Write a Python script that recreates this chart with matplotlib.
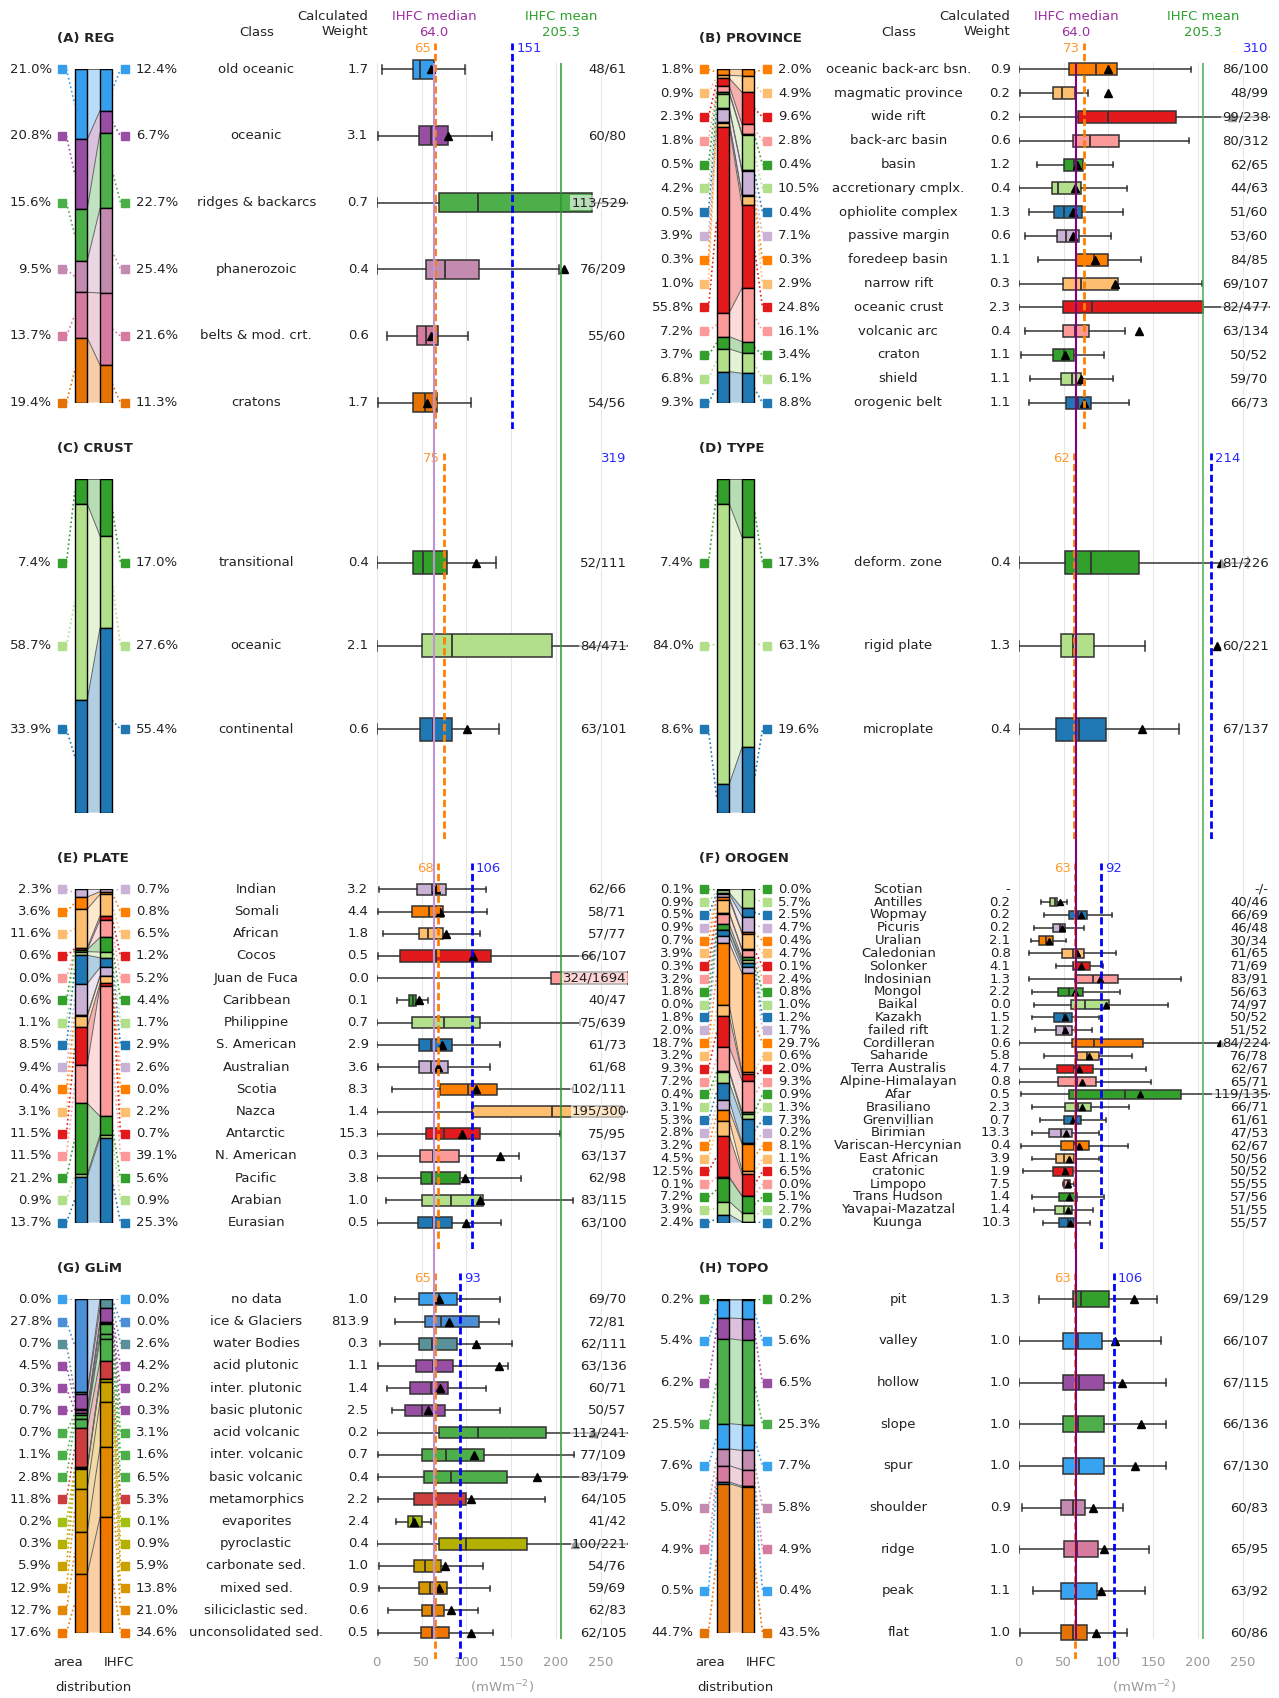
import matplotlib
matplotlib.use("Agg")
import matplotlib.pyplot as plt
import matplotlib.transforms as mtransforms
import numpy as np

plt.rcParams["font.family"] = "DejaVu Sans"
plt.rcParams["font.size"] = 9.5
plt.rcParams["text.color"] = "#222222"

FIG_W, FIG_H = 1279, 1698

# ---------------- data ----------------
# box stats per class: (whisker low, q1, median, q3, whisker high, mean) in mWm-2
reg_classes = ["old oceanic", "oceanic", "ridges & backarcs", "phanerozoic",
               "belts & mod. crt.", "cratons"]
reg_area = [21.0, 20.8, 15.6, 9.5, 13.7, 19.4]
reg_ihfc = [12.4, 6.7, 22.7, 25.4, 21.6, 11.3]
reg_weight = ["1.7", "3.1", "0.7", "0.4", "0.6", "1.7"]
reg_stats = [(6, 40, 48, 64, 98, 61), (1, 47, 60, 80, 129, 80),
             (0, 69, 113, 240, 600, 529), (0, 55, 76, 114, 203, 209),
             (11, 45, 55, 68, 102, 60), (2, 41, 54, 67, 105, 56)]
reg_colors = ["#379ded", "#984ea3", "#4daf4a", "#c38bb0", "#d67b9f", "#e47205"]

prov_classes = ["oceanic back-arc bsn.", "magmatic province", "wide rift", "back-arc basin",
                "basin", "accretionary cmplx.", "ophiolite complex", "passive margin",
                "foredeep basin", "narrow rift", "oceanic crust", "volcanic arc",
                "craton", "shield", "orogenic belt"]
prov_area = [1.8, 0.9, 2.3, 1.8, 0.5, 4.2, 0.5, 3.9, 0.3, 1.0, 55.8, 7.2, 3.7, 6.8, 9.3]
prov_ihfc = [2.0, 4.9, 9.6, 2.8, 0.4, 10.5, 0.4, 7.1, 0.3, 2.9, 24.8, 16.1, 3.4, 6.1, 8.8]
prov_weight = ["0.9", "0.2", "0.2", "0.6", "1.2", "0.4", "1.3", "0.6", "1.1", "0.3",
               "2.3", "0.4", "1.1", "1.1", "1.1"]
prov_stats = [(0, 56, 86, 110, 192, 100), (1, 38, 48, 63, 77, 99),
              (0, 66, 99, 175, 400, 238), (0, 60, 80, 112, 190, 312),
              (20, 50, 62, 72, 105, 65), (0, 37, 44, 70, 121, 63),
              (11, 39, 51, 71, 116, 60), (7, 43, 53, 67, 103, 60),
              (22, 64, 84, 99, 136, 85), (0, 49, 69, 111, 204, 107),
              (0, 49, 82, 206, 400, 477), (7, 49, 63, 78, 119, 134),
              (3, 38, 50, 62, 95, 52), (13, 47, 59, 70, 105, 70),
              (11, 53, 66, 81, 123, 73)]

crust_classes = ["transitional", "oceanic", "continental"]
crust_area = [7.4, 58.7, 33.9]
crust_ihfc = [17.0, 27.6, 55.4]
crust_weight = ["0.4", "2.1", "0.6"]
crust_stats = [(0, 40, 52, 78, 133, 111), (0, 51, 84, 195, 400, 471),
               (0, 48, 63, 84, 136, 101)]

type_classes = ["deform. zone", "rigid plate", "microplate"]
type_area = [7.4, 84.0, 8.6]
type_ihfc = [17.3, 63.1, 19.6]
type_weight = ["0.4", "1.3", "0.4"]
type_stats = [(0, 52, 81, 134, 256, 226), (0, 47, 60, 84, 141, 221),
              (0, 42, 67, 97, 179, 137)]

plate_classes = ["Indian", "Somali", "African", "Cocos", "Juan de Fuca", "Caribbean",
                 "Philippine", "S. American", "Australian", "Scotia", "Nazca",
                 "Antarctic", "N. American", "Pacific", "Arabian", "Eurasian"]
plate_area = [2.3, 3.6, 11.6, 0.6, 0.0, 0.6, 1.1, 8.5, 9.4, 0.4, 3.1, 11.5, 11.5, 21.2, 0.9, 13.7]
plate_ihfc = [0.7, 0.8, 6.5, 1.2, 5.2, 4.4, 1.7, 2.9, 2.6, 0.0, 2.2, 0.7, 39.1, 5.6, 0.9, 25.3]
plate_weight = ["3.2", "4.4", "1.8", "0.5", "0.0", "0.1", "0.7", "2.9", "3.6", "8.3",
                "1.4", "15.3", "0.3", "3.8", "1.0", "0.5"]
plate_stats = [(3, 45, 62, 77, 122, 66), (1, 39, 58, 74, 123, 71),
               (7, 47, 57, 74, 115, 77), (2, 26, 66, 127, 240, 107),
               (0, 194, 324, 500, 2000, 1694), (23, 36, 40, 44, 57, 47),
               (0, 39, 75, 115, 227, 639), (0, 47, 61, 84, 137, 73),
               (2, 47, 61, 79, 126, 68), (17, 71, 102, 134, 219, 111),
               (0, 106, 195, 273, 400, 300), (0, 55, 75, 115, 204, 95),
               (0, 48, 63, 92, 159, 137), (0, 49, 62, 93, 161, 98),
               (10, 51, 83, 118, 219, 115), (0, 46, 63, 84, 139, 100)]

orogen_classes = ["Scotian", "Antilles", "Wopmay", "Picuris", "Uralian", "Caledonian",
                  "Solonker", "Indosinian", "Mongol", "Baikal", "Kazakh", "failed rift",
                  "Cordilleran", "Saharide", "Terra Australis", "Alpine-Himalayan", "Afar",
                  "Brasiliano", "Grenvillian", "Birimian", "Variscan-Hercynian",
                  "East African", "cratonic", "Limpopo", "Trans Hudson",
                  "Yavapai-Mazatzal", "Kuunga"]
orogen_area = [0.1, 0.9, 0.5, 0.9, 0.7, 3.9, 0.3, 3.2, 1.8, 0.0, 1.8, 2.0, 18.7, 3.2,
               9.3, 7.2, 0.4, 3.1, 5.3, 2.8, 3.2, 4.5, 12.5, 0.1, 7.2, 3.9, 2.4]
orogen_ihfc = [0.0, 5.7, 2.5, 4.7, 0.4, 4.7, 0.1, 2.4, 0.8, 1.0, 1.2, 1.7, 29.7, 0.6,
               2.0, 9.3, 0.9, 1.3, 7.3, 0.2, 8.1, 1.1, 6.5, 0.0, 5.1, 2.7, 0.2]
orogen_weight = ["-", "0.2", "0.2", "0.2", "2.1", "0.8", "4.1", "1.3", "2.2", "0.0",
                 "1.5", "1.2", "0.6", "5.8", "4.7", "0.8", "0.5", "2.3", "0.7", "13.3",
                 "0.4", "3.9", "1.9", "7.5", "1.4", "1.4", "10.3"]
orogen_stats = [None, (25, 35, 40, 43, 54, 46), (28, 56, 66, 76, 104, 69),
                (17, 38, 46, 52, 73, 48), (14, 23, 30, 38, 53, 34),
                (11, 48, 61, 73, 109, 65), (42, 61, 71, 80, 94, 69),
                (11, 63, 83, 111, 181, 91), (15, 44, 56, 72, 113, 63),
                (17, 58, 74, 101, 166, 97), (15, 39, 50, 59, 89, 52),
                (18, 42, 51, 59, 82, 52), (0, 59, 84, 139, 320, 224),
                (28, 65, 76, 90, 126, 78), (0, 43, 62, 83, 142, 67),
                (0, 44, 65, 86, 148, 71), (3, 56, 119, 181, 320, 135),
                (15, 52, 66, 81, 123, 71), (24, 51, 61, 69, 97, 61),
                (15, 34, 47, 59, 89, 53), (3, 47, 62, 78, 122, 67),
                (15, 42, 50, 62, 89, 56), (5, 38, 50, 60, 93, 52),
                (49, 51, 55, 57, 62, 55), (15, 45, 57, 65, 95, 56),
                (17, 41, 51, 59, 83, 55), (27, 45, 55, 62, 80, 57)]

glim_classes = ["no data", "ice & Glaciers", "water Bodies", "acid plutonic",
                "inter. plutonic", "basic plutonic", "acid volcanic", "inter. volcanic",
                "basic volcanic", "metamorphics", "evaporites", "pyroclastic",
                "carbonate sed.", "mixed sed.", "siliciclastic sed.", "unconsolidated sed."]
glim_area = [0.0, 27.8, 0.7, 4.5, 0.3, 0.7, 0.7, 1.1, 2.8, 11.8, 0.2, 0.3, 5.9, 12.9, 12.7, 17.6]
glim_ihfc = [0.0, 0.0, 2.6, 4.2, 0.2, 0.3, 3.1, 1.6, 6.5, 5.3, 0.1, 0.9, 5.9, 13.8, 21.0, 34.6]
glim_weight = ["1.0", "813.9", "0.3", "1.1", "1.4", "2.5", "0.2", "0.7", "0.4", "2.2",
               "2.4", "0.4", "1.0", "0.9", "0.6", "0.5"]
glim_stats = [(20, 47, 69, 90, 137, 70), (20, 54, 72, 114, 136, 81),
              (4, 47, 62, 89, 151, 111), (1, 44, 63, 85, 146, 136),
              (11, 37, 60, 80, 122, 71), (17, 32, 50, 76, 137, 57),
              (0, 69, 113, 189, 320, 241), (1, 51, 77, 120, 220, 109),
              (1, 53, 83, 145, 300, 179), (1, 42, 64, 100, 188, 105),
              (21, 35, 41, 50, 61, 42), (0, 69, 100, 168, 300, 221),
              (3, 42, 54, 72, 118, 76), (3, 47, 59, 78, 126, 69),
              (13, 50, 62, 75, 113, 83), (1, 49, 62, 81, 130, 105)]
glim_colors = ["#3aa1ee", "#4a8fd8", "#5a9097", "#984ea3", "#984ea3", "#984ea3",
               "#4daf4a", "#4daf4a", "#4daf4a", "#cc3d3d", "#a3c010", "#b3b000",
               "#c9a200", "#d79600", "#e38800", "#f07600"]

topo_classes = ["pit", "valley", "hollow", "slope", "spur", "shoulder", "ridge", "peak", "flat"]
topo_area = [0.2, 5.4, 6.2, 25.5, 7.6, 5.0, 4.9, 0.5, 44.7]
topo_ihfc = [0.2, 5.6, 6.5, 25.3, 7.7, 5.8, 4.9, 0.4, 43.5]
topo_weight = ["1.3", "1.0", "1.0", "1.0", "1.0", "0.9", "1.0", "1.1", "1.0"]
topo_stats = [(23, 60, 69, 101, 154, 129), (0, 49, 66, 93, 159, 107),
              (0, 49, 67, 95, 164, 115), (0, 49, 66, 95, 164, 136),
              (0, 49, 67, 95, 164, 130), (4, 47, 60, 74, 116, 83),
              (0, 50, 65, 88, 145, 95), (16, 47, 63, 87, 141, 92),
              (1, 47, 60, 76, 121, 86)]
topo_colors = ["#33a02c", "#38a3f0", "#984ea3", "#4daf4a", "#38a3f0", "#c38bb0",
               "#d67b9f", "#38a3f0", "#e47205"]

ihfc_median = 64.0
ihfc_mean = 205.3
ticks = [0, 50, 100, 150, 200, 250]

paired_cycle = ["#1f78b4", "#b2df8a", "#33a02c", "#fb9a99", "#e31a1c", "#fdbf6f", "#ff7f00", "#cab2d6"]


def paired(n):
    return [paired_cycle[(n - 1 - i) % 8] for i in range(n)]


panels = [
    dict(title="(A) REG", col=0, row=0, classes=reg_classes, area=reg_area, ihfc=reg_ihfc,
         weight=reg_weight, stats=reg_stats, colors=reg_colors, lines=(65, 151), box=19),
    dict(title="(B) PROVINCE", col=1, row=0, classes=prov_classes, area=prov_area, ihfc=prov_ihfc,
         weight=prov_weight, stats=prov_stats, colors=paired(15), lines=(73, 310), box=12),
    dict(title="(C) CRUST", col=0, row=1, classes=crust_classes, area=crust_area, ihfc=crust_ihfc,
         weight=crust_weight, stats=crust_stats, colors=paired(3), lines=(75, 319), box=23, pad=1),
    dict(title="(D) TYPE", col=1, row=1, classes=type_classes, area=type_area, ihfc=type_ihfc,
         weight=type_weight, stats=type_stats, colors=paired(3), lines=(62, 214), box=23, pad=1),
    dict(title="(E) PLATE", col=0, row=2, classes=plate_classes, area=plate_area, ihfc=plate_ihfc,
         weight=plate_weight, stats=plate_stats, colors=paired(16), lines=(68, 106), box=11.5),
    dict(title="(F) OROGEN", col=1, row=2, classes=orogen_classes, area=orogen_area, ihfc=orogen_ihfc,
         weight=orogen_weight, stats=orogen_stats, colors=paired(27), lines=(63, 92), box=8.5),
    dict(title="(G) GLiM", col=0, row=3, classes=glim_classes, area=glim_area, ihfc=glim_ihfc,
         weight=glim_weight, stats=glim_stats, colors=glim_colors, lines=(65, 93), box=11.7),
    dict(title="(H) TOPO", col=1, row=3, classes=topo_classes, area=topo_area, ihfc=topo_ihfc,
         weight=topo_weight, stats=topo_stats, colors=topo_colors, lines=(63, 106), box=15.7),
]

# ---------------- layout (pixels) ----------------
COL_DX = 642
PANEL_TOP = [69.3, 479.3, 889.3, 1299.3]
BAR_H = 333.3
BOX_X0 = 376.7
PX_PER_UNIT = 0.897
X_MAX = 280
BOX_W = X_MAX * PX_PER_UNIT
GRID_TOP, GRID_BOT = 63.3, 1639.3

fig = plt.figure(figsize=(FIG_W / 100, FIG_H / 100), dpi=100)


def px_axes(x, y, w, h, zorder=1):
    return fig.add_axes([x / FIG_W, 1 - (y + h) / FIG_H, w / FIG_W, h / FIG_H], zorder=zorder)


def fig_text(x, y, s, **kw):
    fig.text(x / FIG_W, 1 - y / FIG_H, s, **kw)


# column backgrounds: grid, ticks, reference lines
med_line_colors = ["#c392d3", "#800080"]
mean_line_colors = ["#2a9a2a", "#4cae4c"]
for c in range(2):
    x0 = COL_DX * c
    bg = px_axes(x0 + BOX_X0, GRID_TOP, BOX_W, GRID_BOT - GRID_TOP, zorder=0)
    bg.set_xlim(0, X_MAX)
    bg.set_ylim(0, 1)
    bg.set_xticks(ticks)
    bg.set_yticks([])
    bg.grid(axis="x", color="#e6e6e6", lw=0.8)
    for s in bg.spines.values():
        s.set_visible(False)
    bg.tick_params(axis="x", length=0, pad=12, labelcolor="#999999", labelsize=9.5)
    tr = mtransforms.blended_transform_factory(bg.transData, fig.transFigure)
    bg.text(140, 1 - 1687.7 / FIG_H, "(mWm$^{-2}$)", transform=tr, ha="center", va="center",
            color="#999999")
    bg.text(ihfc_median, 1 - 24.5 / FIG_H, f"IHFC median\n{ihfc_median:.1f}", transform=tr,
            ha="center", va="center", color="#9b30a0", multialignment="center")
    bg.text(ihfc_mean, 1 - 24.5 / FIG_H, f"IHFC mean\n{ihfc_mean:.1f}", transform=tr,
            ha="center", va="center", color="#2ca02c", multialignment="center")

    ov = px_axes(x0 + BOX_X0, GRID_TOP, BOX_W, GRID_BOT - GRID_TOP, zorder=3)
    ov.set_xlim(0, X_MAX)
    ov.axis("off")
    ov.axvline(ihfc_median, color=med_line_colors[c], lw=1.5)
    ov.axvline(ihfc_mean, color=mean_line_colors[c], lw=1.1)

    fig_text(x0 + 256.3, 32.3, "Class", ha="center", va="center")
    fig_text(x0 + 368.6, 24.5, "Calculated\nWeight", ha="right", va="center",
             multialignment="right")
    fig_text(x0 + 83, 1662.3, "area", ha="right", va="center")
    fig_text(x0 + 104, 1662.3, "IHFC", ha="left", va="center")
    fig_text(x0 + 93.7, 1687.7, "distribution", ha="center", va="center")


def draw_panel(p):
    x0 = COL_DX * p["col"]
    top = PANEL_TOP[p["row"]]
    n = len(p["classes"])
    pad = p.get("pad", 0)
    ys = np.linspace(0, BAR_H, n + 2 * pad)[pad:pad + n]
    colors = p["colors"]

    # stacked area / IHFC distribution
    axl = px_axes(x0, top, BOX_X0 - 1, BAR_H, zorder=1)
    axl.set_xlim(0, BOX_X0 - 1)
    axl.set_ylim(BAR_H, 0)
    axl.axis("off")
    area = np.array(p["area"], float)
    ihfc = np.array(p["ihfc"], float)
    a_h = area / area.sum() * BAR_H
    i_h = ihfc / ihfc.sum() * BAR_H
    a_top = np.concatenate([[0], np.cumsum(a_h)[:-1]])
    i_top = np.concatenate([[0], np.cumsum(i_h)[:-1]])
    for k in range(n):
        col = colors[k]
        axl.fill([87.3, 100, 100, 87.3],
                 [a_top[k], i_top[k], i_top[k] + i_h[k], a_top[k] + a_h[k]],
                 fc=col, alpha=0.35, ec="none", zorder=1)
        axl.plot([87.3, 100], [a_top[k], i_top[k]], color="#666666", lw=0.7, zorder=1.5)
        axl.bar(81, a_h[k], bottom=a_top[k], width=12.6, color=col, edgecolor="black",
                linewidth=1.0, zorder=2)
        axl.bar(106.1, i_h[k], bottom=i_top[k], width=12.2, color=col, edgecolor="black",
                linewidth=1.0, zorder=2)
        y = ys[k]
        axl.plot([66.5, 74.7], [y, a_top[k] + a_h[k] / 2], ls=":", color=col, lw=1.2, zorder=1)
        axl.plot([112.2, 120.5], [i_top[k] + i_h[k] / 2, y], ls=":", color=col, lw=1.2, zorder=1)
        axl.plot(62, y, marker="s", ms=6.2, color=col, mec=col, clip_on=False, zorder=3)
        axl.plot(124.9, y, marker="s", ms=6.2, color=col, mec=col, clip_on=False, zorder=3)
        axl.text(51.8, y, f"{p['area'][k]:.1f}%", ha="right", va="center")
        axl.text(135.9, y, f"{p['ihfc'][k]:.1f}%", ha="left", va="center")
        axl.text(256.3, y, p["classes"][k], ha="center", va="center")
        axl.text(368.6, y, p["weight"][k], ha="right", va="center")
    axl.text(57, -31, p["title"], ha="left", va="center", fontweight="bold")

    # box plots
    axb = px_axes(x0 + BOX_X0, top - 26.5, BOX_W, BAR_H + 53, zorder=1)
    axb.set_xlim(0, X_MAX)
    axb.set_ylim(BAR_H + 26.5, -26.5)
    axb.axis("off")
    stats, pos, cols = [], [], []
    for k, s in enumerate(p["stats"]):
        if s is None:
            axb.text(278.5, ys[k], "-/-", ha="right", va="center")
            continue
        lo, q1, med, q3, hi, mean = s
        stats.append(dict(whislo=lo, q1=q1, med=med, q3=q3, whishi=hi, mean=mean, fliers=[]))
        pos.append(ys[k])
        cols.append(colors[k])
        axb.text(278.5, ys[k], f"{med}/{mean}", ha="right", va="center", zorder=5,
                 bbox=dict(boxstyle="square,pad=0.05", fc="white", ec="none", alpha=0.6))
    lc = "#333333"
    ms = 4.5 if n > 20 else 5.5
    bp = axb.bxp(stats, positions=pos, widths=p["box"], orientation="horizontal",
                 patch_artist=True, showmeans=True, showfliers=False, manage_ticks=False,
                 capwidths=p["box"] * 0.45,
                 boxprops=dict(edgecolor=lc, linewidth=1.1),
                 medianprops=dict(color=lc, linewidth=1.3),
                 whiskerprops=dict(color=lc, linewidth=1.1),
                 capprops=dict(color=lc, linewidth=1.1),
                 meanprops=dict(marker="^", markerfacecolor="black", markeredgecolor="black",
                                markersize=ms))
    for box, col in zip(bp["boxes"], cols):
        box.set_facecolor(col)

    wmed, wmean = p["lines"]
    dash = (0, (2.6, 1.3))
    axb.axvline(wmed, color="#ff7f00", lw=2, ls=dash, zorder=4)
    axb.annotate(str(wmed), (wmed, -21), xytext=(-3, 0), textcoords="offset points",
                 ha="right", va="center", color="#ff9a2e")
    if wmean <= X_MAX:
        axb.axvline(wmean, color="blue", lw=2, ls=dash, zorder=4)
        axb.annotate(str(wmean), (wmean, -21), xytext=(3, 0), textcoords="offset points",
                     ha="left", va="center", color="#2a2aff")
    else:
        axb.text(278.5, -21, str(wmean), ha="right", va="center", color="#2a2aff")


for p in panels:
    draw_panel(p)

fig.savefig("out.png", dpi=100)
